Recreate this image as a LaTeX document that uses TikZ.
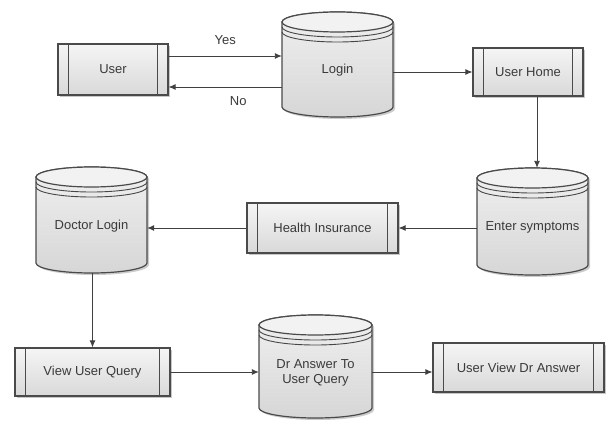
\documentclass[tikz,border=0pt]{standalone}
\usepackage{fontspec}
\setmainfont{Liberation Sans}
\usetikzlibrary{arrows.meta,shadows,calc}
\definecolor{bordercol}{HTML}{4A4A4A}
\definecolor{txtcol}{HTML}{3A3A3A}
\definecolor{conncol}{HTML}{404040}
\tikzset{
  procbox/.style={rectangle, draw=bordercol, line width=1.2pt, top color=gray!8, bottom color=gray!30,
    drop shadow={shadow xshift=2pt, shadow yshift=-2pt, fill=black, opacity=0.22},
    inner sep=0pt, font=\fontsize{13}{15}\selectfont, text=txtcol},
  sideline/.style={draw=bordercol, line width=1pt},
  cylbody/.style={draw=bordercol, line width=1.2pt, top color=gray!12, bottom color=gray!32},
  cyltop/.style={draw=bordercol, line width=1.2pt, fill=gray!10},
  ringline/.style={draw=gray!55!black, line width=0.9pt},
  cylshadow/.style={fill=black, opacity=0.2},
  boundbox/.style={rectangle, draw=none, inner sep=0pt},
  txt/.style={font=\fontsize{13}{15}\selectfont, text=txtcol, inner sep=0pt},
  conn/.style={draw=conncol, line width=0.9pt, -{Latex[length=7pt,width=6pt]}},
}
\newcommand\mycyl[6]{%
  \pgfmathsetmacro\cx{(#2+#3)/2}\pgfmathsetmacro\rx{(#3-#2)/2}%
  \pgfmathsetmacro\ct{421-#4}\pgfmathsetmacro\cb{421-#5}%
  \pgfmathsetmacro\cy{(\ct+\cb)/2}\pgfmathsetmacro\ch{\ct-\cb}%
  \pgfmathsetmacro\et{\ct-10}\pgfmathsetmacro\eb{\cb+10}%
  \path[cylshadow, xshift=2pt, yshift=-2pt] (#2,\et) -- (#2,\eb) arc[start angle=180,end angle=360,x radius=\rx pt,y radius=10pt] -- (#3,\et) arc[start angle=0,end angle=180,x radius=\rx pt,y radius=10pt] -- cycle;
  \path[cylbody] (#2,\et) -- (#2,\eb) arc[start angle=180,end angle=360,x radius=\rx pt,y radius=10pt] -- (#3,\et) arc[start angle=0,end angle=180,x radius=\rx pt,y radius=10pt] -- cycle;
  \draw[ringline] (#2,\et-5) arc[start angle=180,end angle=360,x radius=\rx pt,y radius=10pt];
  \draw[ringline] (#2,\et-10) arc[start angle=180,end angle=360,x radius=\rx pt,y radius=10pt];
  \draw[cyltop] (\cx,\et) ellipse[x radius=\rx pt, y radius=10pt];
  \node[boundbox, minimum width={2*\rx pt}, minimum height={\ch pt}] (#1) at (\cx,\cy) {};
  \node[txt, align=center] at (\cx,\cy-6) {#6};
}
\begin{document}
\begin{tikzpicture}[x=1pt,y=1pt]
\useasboundingbox (0,0) rectangle (612,421);
\fill[white] (0,0) rectangle (612,421);

% process boxes
\node[procbox, minimum width=110pt, minimum height=51pt] (user) at (113,351.5) {User};
\node[procbox, minimum width=110pt, minimum height=48pt] (home) at (528,349) {User Home};
\node[procbox, minimum width=151pt, minimum height=50pt] (health) at (322.5,193) {Health Insurance};
\node[procbox, minimum width=155pt, minimum height=48pt] (view) at (92.5,49) {View User Query};
\node[procbox, minimum width=171pt, minimum height=49pt] (uview) at (518.5,53.5) {User View Dr Answer};
\foreach \n in {user,home,health,view,uview}{
  \draw[sideline] ([xshift=11pt]\n.north west) -- ([xshift=11pt]\n.south west);
  \draw[sideline] ([xshift=-11pt]\n.north east) -- ([xshift=-11pt]\n.south east);
}

% cylinders
\mycyl{login}{282}{393}{12}{117}{Login}
\mycyl{enter}{477}{588}{168}{275}{Enter symptoms}
\mycyl{doctor}{36}{147}{167}{273}{Doctor Login}
\mycyl{drans}{259}{372}{315}{418}{Dr Answer To\\User Query}

% connectors
\draw[conn] ([yshift=13.5pt]user.east) -- ([yshift=13.5pt]user.east -| login.west)
  node[txt, midway, yshift=16pt] {Yes};
\draw[conn] ([yshift=-17.5pt]user.east -| login.west) -- ([yshift=-17.5pt]user.east)
  node[txt, midway, xshift=13pt, yshift=-14pt] {No};
\draw[conn] (login.east |- home.west) -- (home.west);
\draw[conn] ([xshift=9pt]home.south) -- ([xshift=9pt]home.south |- enter.north);
\draw[conn] (enter.west |- health.east) -- (health.east);
\draw[conn] (health.west) -- (health.west -| doctor.east);
\draw[conn] (view.north |- doctor.south) -- (view.north);
\draw[conn] (view.east) -- (view.east -| drans.west);
\draw[conn] (drans.east |- view.east) -- (uview.west |- view.east);
\end{tikzpicture}
\end{document}
